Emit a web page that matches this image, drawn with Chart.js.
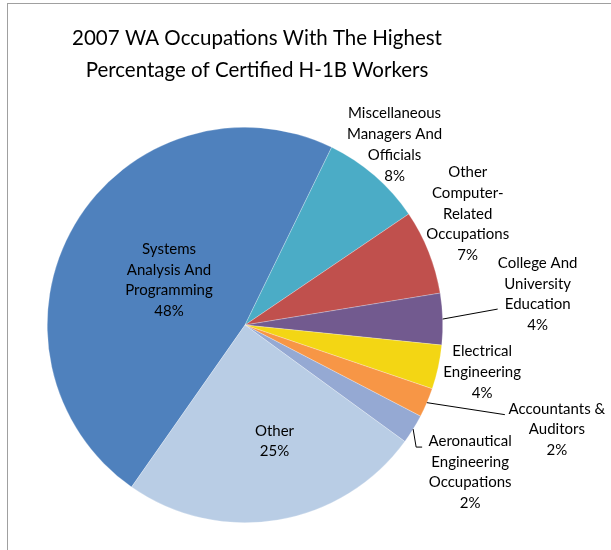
<!DOCTYPE html>
<html lang="en">
<head>
  <meta charset="UTF-8">
  <style>
    html, body { margin: 0; padding: 0; background: #fff; }
    .frame {
      position: absolute; left: 7px; top: 3px; width: 620px; height: 560px;
      border-left: 1px solid #a0a0a0; border-top: 1px solid #a0a0a0;
    }
    .box { position: absolute; left: 0; top: 0; width: 611px; height: 550px; }
  </style>
</head>
<body>
  <div class="frame"></div>
  <div class="box"><canvas id="grafico"></canvas></div>

<script src="https://cdn.jsdelivr.net/npm/chart.js"></script>
<script>
  // dados (em %)
  const ocupacoes = [
    ['Systems', 'Analysis And', 'Programming'],
    ['Miscellaneous', 'Managers And', 'Officials'],
    ['Other', 'Computer-', 'Related', 'Occupations'],
    ['College And', 'University', 'Education'],
    ['Electrical', 'Engineering'],
    ['Accountants &', 'Auditors'],
    ['Aeronautical', 'Engineering', 'Occupations'],
    ['Other']
  ];
  const percentuais = [47.5, 8.3, 6.9, 4.2, 3.6, 2.4, 2.4, 24.7];
  const titulo = ['2007 WA Occupations With The Highest', 'Percentage of Certified H-1B Workers'];

  const cores = ['#4f81bd', '#4bacc6', '#c0504d', '#725a8f', '#f3d614', '#f79646', '#95a9d3', '#b9cde5'];
  const fonte = 'Lato, "Open Sans", sans-serif';

  // onde fica cada rótulo: k = fração do raio no ângulo médio, dx/dy = deslocamento extra
  // linha = pontos da linha de chamada relativos ao ponto da borda
  const posRotulos = [
    { k: 0.446, dx: 0, dy: 0 },
    { k: 1, dx: 20, dy: -31 },
    { k: 1, dx: 39, dy: -38 },
    { k: 1, dx: 95, dy: -25, linha: [[55, -10]] },
    { k: 1, dx: 44, dy: 5 },
    { k: 1, dx: 130, dy: 27, linha: [[78, 12]] },
    { k: 1, dx: 57, dy: 43, linha: [[3, 18], [9, 18]] },
    { k: 0.6, dx: 10, dy: -1 }
  ];

  const pluginRotulos = {
    id: 'rotulos',
    afterDraw(chart) {
      const c = chart.ctx;
      const total = percentuais.reduce((a, b) => a + b, 0);
      c.save();
      c.fillStyle = '#000';
      c.textAlign = 'center';
      c.textBaseline = 'middle';

      // título
      c.font = '20.5px ' + fonte;
      titulo.forEach((t, i) => c.fillText(t, 257, 38 + i * 32));

      c.font = '15px ' + fonte;
      const arcos = chart.getDatasetMeta(0).data;
      arcos.forEach((arc, i) => {
        const p = posRotulos[i];
        const meio = (arc.startAngle + arc.endAngle) / 2;
        const r = arc.outerRadius;
        const bx = arc.x + Math.cos(meio) * r;
        const by = arc.y + Math.sin(meio) * r;
        const lx = arc.x + Math.cos(meio) * r * p.k + p.dx;
        const ly = arc.y + Math.sin(meio) * r * p.k + p.dy;

        const linhas = ocupacoes[i].concat([Math.round(percentuais[i] / total * 100) + '%']);
        const alt = 20.7;
        const y0 = ly - (linhas.length - 1) * alt / 2;
        linhas.forEach((t, j) => c.fillText(t, lx, y0 + j * alt));

        if (p.linha) {
          c.strokeStyle = '#000';
          c.lineWidth = 1;
          c.beginPath();
          c.moveTo(bx, by);
          p.linha.forEach(pt => c.lineTo(bx + pt[0], by + pt[1]));
          c.stroke();
        }
      });
      c.restore();
    }
  };

  new Chart(document.getElementById('grafico'), {
    type: 'pie',
    data: {
      labels: ocupacoes.map(o => o.join(' ')),
      datasets: [{
        data: percentuais,
        backgroundColor: cores,
        borderColor: 'rgba(255,255,255,0.5)',
        borderWidth: 0.5
      }]
    },
    options: {
      responsive: true,
      maintainAspectRatio: false,
      animation: false,
      rotation: 215,
      layout: { padding: { top: 127, bottom: 27, left: 47, right: 168 } },
      plugins: {
        legend: { display: false },
        tooltip: { enabled: false }
      }
    },
    plugins: [pluginRotulos]
  });
</script>
</body>
</html>
